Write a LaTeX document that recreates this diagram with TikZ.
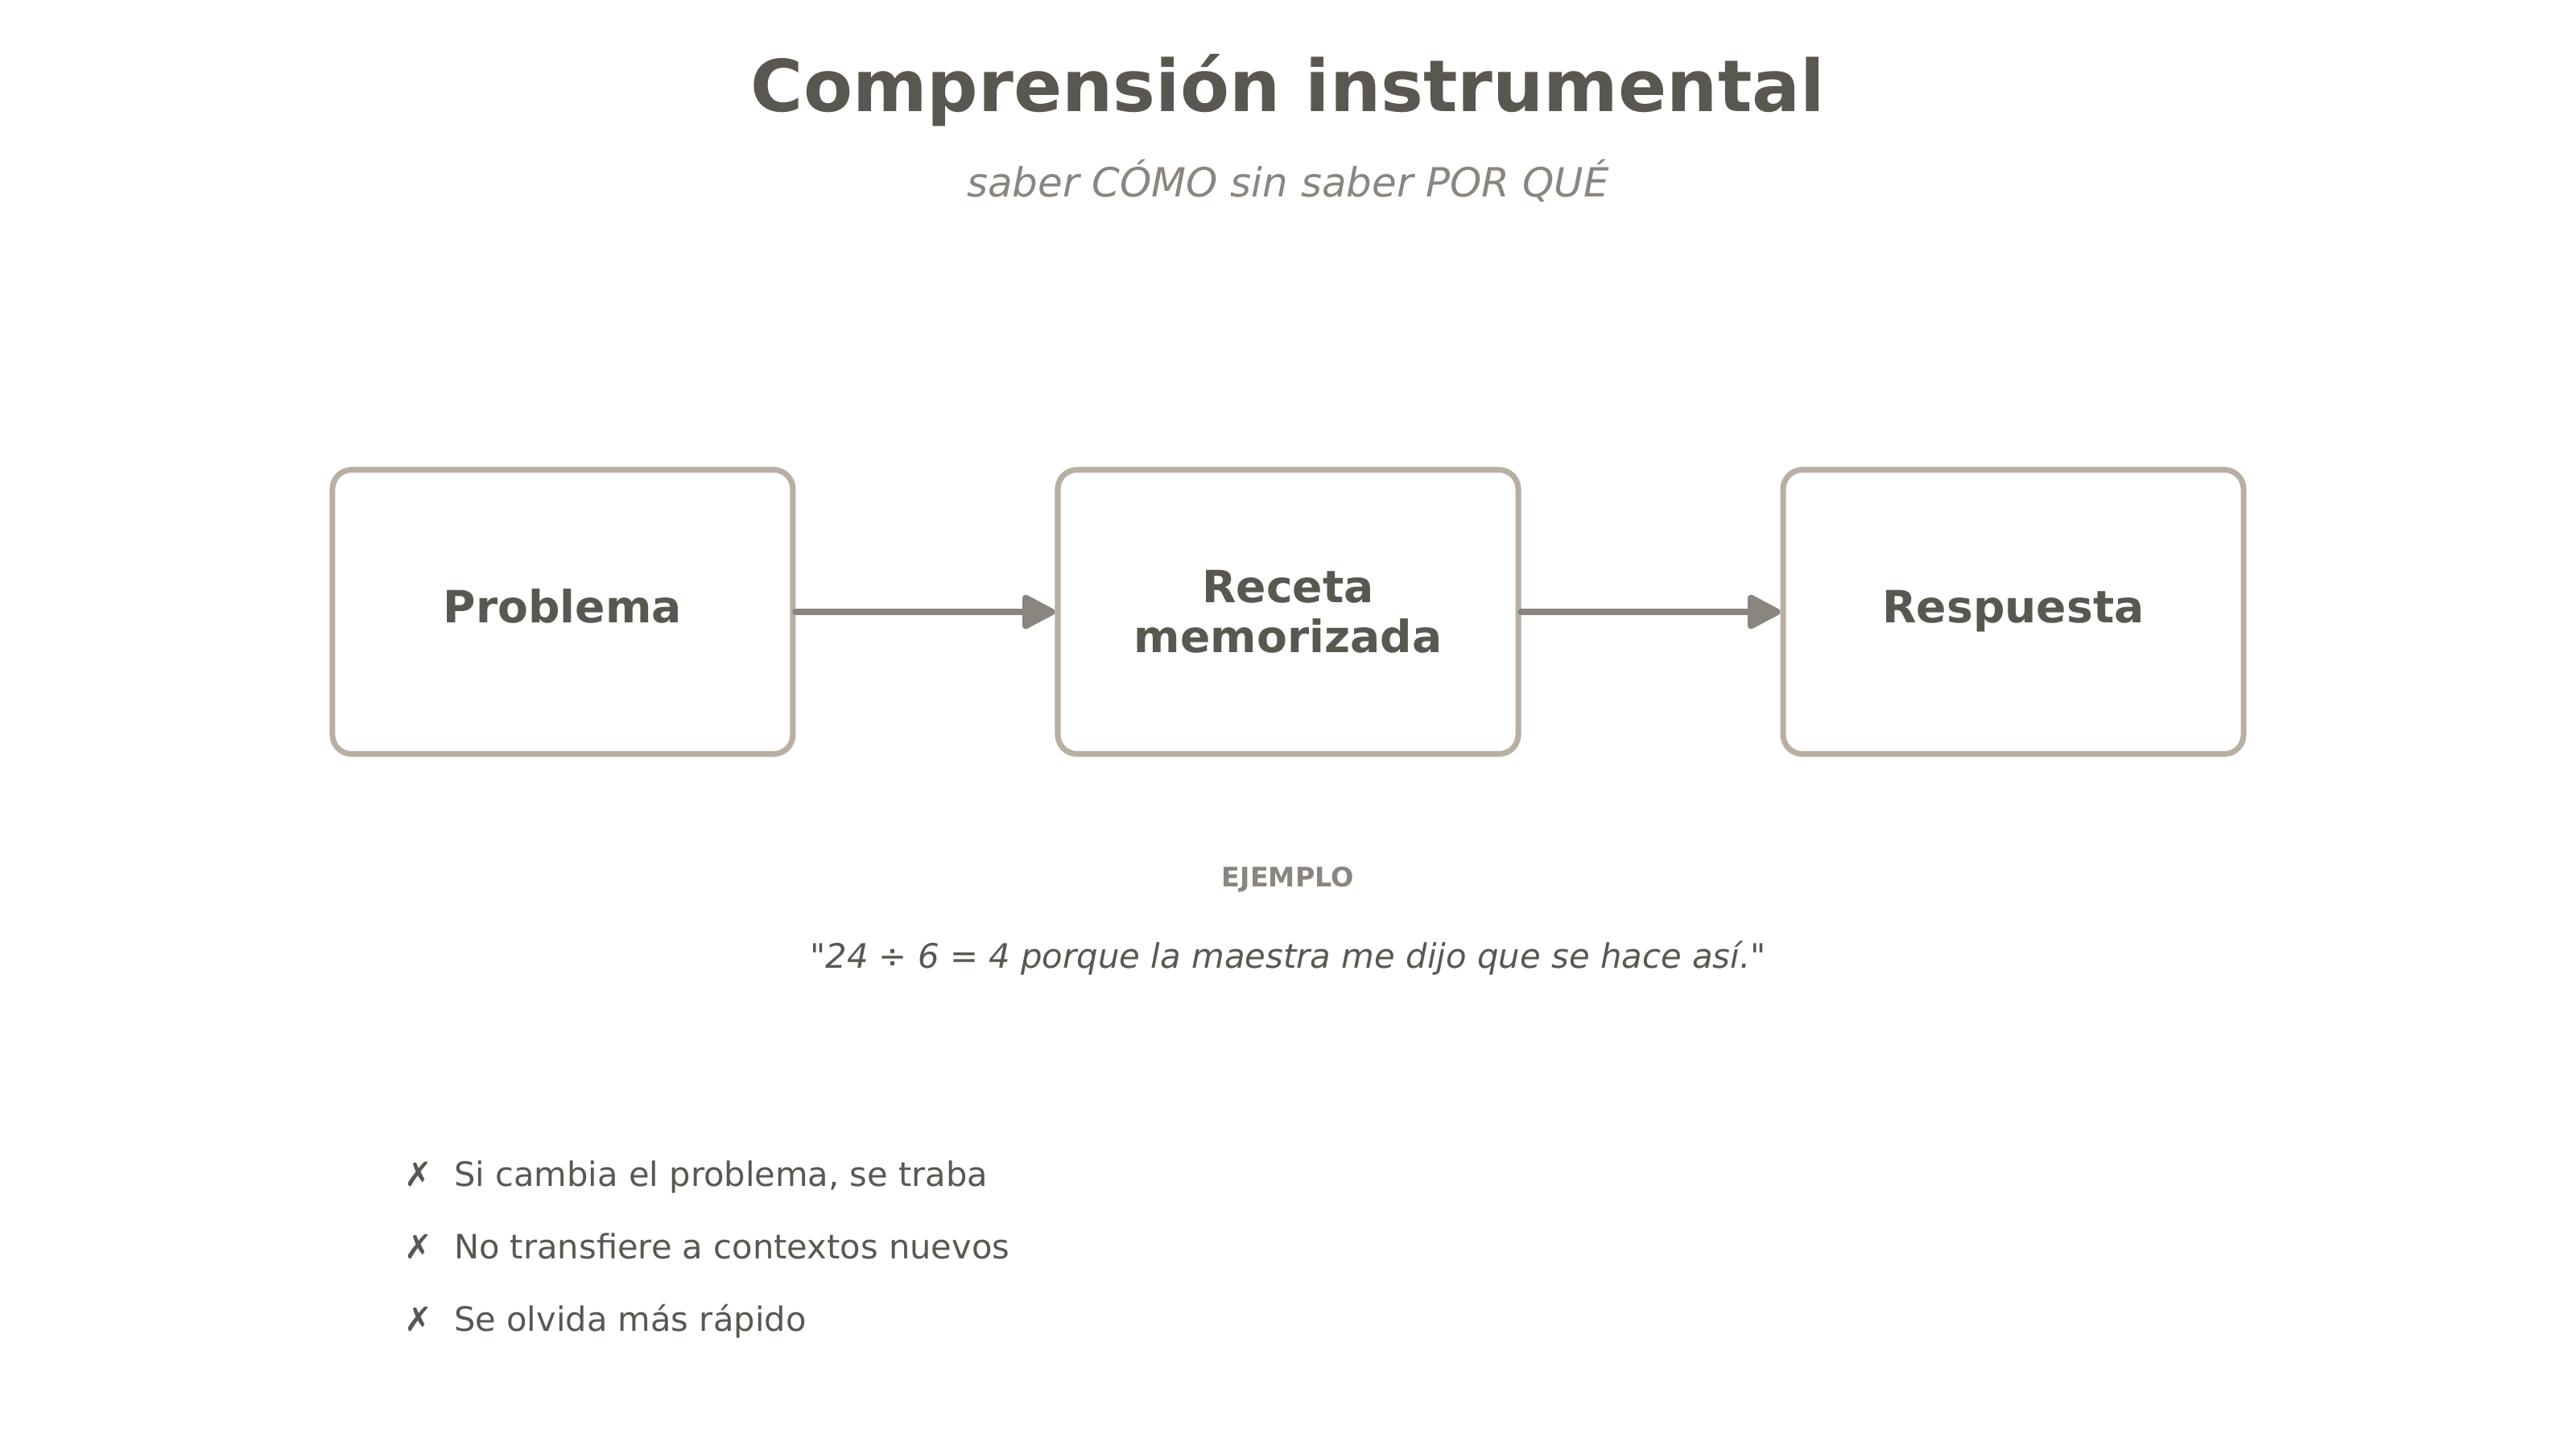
\documentclass[tikz,border=0pt]{standalone}
\usepackage{fontspec}
\setmainfont{DejaVu Sans}
\usetikzlibrary{positioning,arrows.meta}
\definecolor{ink}{HTML}{5A5751}
\definecolor{muted}{HTML}{8A857E}
\definecolor{edge}{HTML}{B8AFA4}

\begin{document}
\begin{tikzpicture}[
    >={Triangle[round, length=13pt, width=13pt]},
    box/.style={draw=edge, line width=2pt, rounded corners=6.8pt, fill=white, align=center,
                minimum width=5.72cm, minimum height=3.53cm, text=ink,
                font=\fontsize{15.7}{17.5}\selectfont\bfseries},
    oneline/.style={text height=0.74em, text depth=0em},
    flow/.style={->, draw=muted, line width=2.4pt, line cap=round},
    ttl/.style={anchor=base, text=ink, font=\fontsize{25.3}{30}\selectfont\bfseries},
    sub/.style={anchor=base, text=muted, font=\fontsize{14.2}{17}\selectfont\itshape},
    tag/.style={text=muted, font=\fontsize{9.5}{11}\selectfont\bfseries},
    quote/.style={anchor=base, text=ink, font=\fontsize{11.9}{15}\selectfont\itshape},
    item/.style={anchor=base west, text=ink, inner sep=0pt, font=\fontsize{11.85}{14}\selectfont},
]
\useasboundingbox[fill=white] (0,0) rectangle (32,18);

% title
\node[ttl] (title) at (16,16.61) {Comprensión instrumental};
\node[sub] (subtitle) at (16,15.55) {saber CÓMO sin saber POR QUÉ};

% flow
\node[box] (receta) at (16,10.40) {Receta\\memorizada};
\node[box, oneline, left=3.22cm of receta] (problema) {Problema};
\node[box, oneline, right=3.22cm of receta] (respuesta) {Respuesta};
\draw[flow] (problema) -- (receta);
\draw[flow] (receta) -- (respuesta);

% example
\node[tag] (ejemplo) at (16,7.08) {EJEMPLO};
\node[quote] (cita) at (16,5.98) {\textquotedbl 24 ÷ 6 = 4 porque la maestra me dijo que se hace así.\textquotedbl};

% drawbacks
\node[item] (b1) at (5.02,3.27) {✗\ \ Si cambia el problema, se traba};
\node[item] (b2) at (5.02,2.37) {✗\ \ No transfiere a contextos nuevos};
\node[item] (b3) at (5.02,1.47) {✗\ \ Se olvida más rápido};
\end{tikzpicture}
\end{document}
